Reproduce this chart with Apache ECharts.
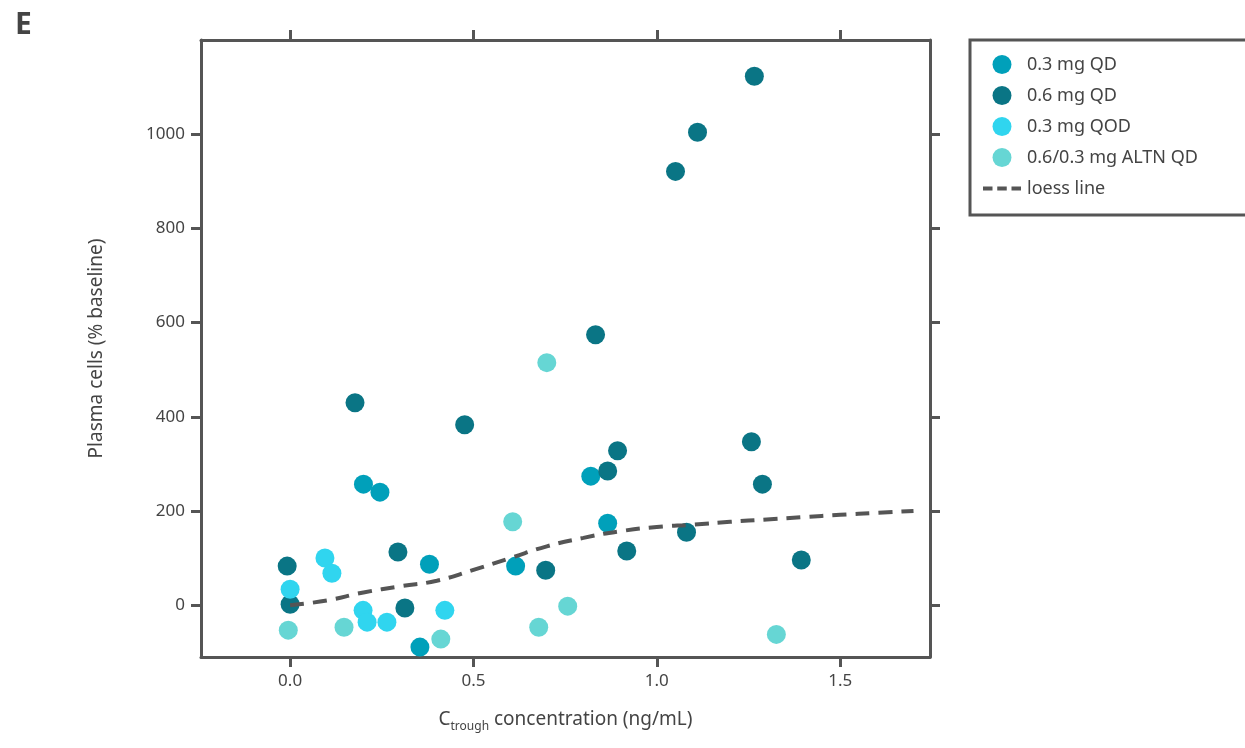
<!DOCTYPE html>
<html><head><meta charset="utf-8">
<script src="https://cdn.jsdelivr.net/npm/echarts@6/dist/echarts.min.js"></script>
<style>html,body{margin:0;padding:0;background:#fff}#c{width:1245px;height:748px}</style>
</head><body><div id="c"></div>
<script>
const qd03 = [[0.20,257],[0.245,240],[0.38,87],[0.354,-89],[0.615,83],[0.82,274],[0.866,174]];
const qd06 = [[-0.008,83],[0,2],[0.177,430],[0.294,113],[0.313,-6],[0.476,383],[0.697,74],[0.833,574],[0.866,285],[0.893,328],[0.918,115],[1.051,921],[1.111,1004],[1.081,155],[1.266,1123],[1.258,347],[1.288,257],[1.394,96]];
const qod03 = [[0,34],[0.095,100],[0.114,68],[0.199,-11],[0.21,-36],[0.264,-36],[0.422,-11]];
const altn = [[-0.005,-53],[0.147,-47],[0.411,-72],[0.607,177],[0.70,515],[0.678,-47],[0.757,-2],[1.326,-62]];
const loess = [[0,0],[0.1,10],[0.2,27],[0.3,40],[0.4,52],[0.5,75],[0.6,100],[0.7,125],[0.8,143],[0.9,157],[1.0,166],[1.1,171],[1.2,177],[1.3,182],[1.4,187],[1.5,192],[1.6,196],[1.7,200]];
const xTicks = [0,0.5,1,1.5];
const yTicks = [0,200,400,600,800,1000];
const F = 'Noto Sans';
const ax = '#555';
const chart = echarts.init(document.getElementById('c'));
function sc(name, data, color){return {name, type:'scatter', data, symbolSize:19, itemStyle:{color, opacity:1}, xAxisIndex:0, yAxisIndex:0};}
const xBase = {type:'value', min:-0.243, max:1.745, axisLine:{onZero:false,lineStyle:{color:ax,width:3}}, axisTick:{customValues:xTicks,length:10,lineStyle:{color:ax,width:3}}, splitLine:{show:false}};
const yBase = {type:'value', min:-110, max:1200, axisLine:{onZero:false,lineStyle:{color:ax,width:3}}, axisTick:{customValues:yTicks,length:10,lineStyle:{color:ax,width:3}}, splitLine:{show:false}};
chart.setOption({
  animation:false,
  grid:{left:201,right:315,top:40,bottom:91,containLabel:false},
  title:{text:'E',left:10,top:5,textStyle:{fontFamily:F,fontSize:30,fontWeight:'bold',color:'#444'}},
  legend:{show:true,orient:'vertical',left:978,top:50,itemGap:12,itemWidth:40,itemHeight:19,
    textStyle:{fontFamily:F,fontSize:18,color:'#444'},
    data:[{name:'0.3 mg QD',icon:'circle'},{name:'0.6 mg QD',icon:'circle'},{name:'0.3 mg QOD',icon:'circle'},{name:'0.6/0.3 mg ALTN QD',icon:'circle'},
      {name:'loess line',icon:'path://M0,0h0.1v0.1h-0.1z M0,8h10v4h-10z M15,8h10v4h-10z M30,8h10v4h-10z M0,19.9h0.1v0.1h-0.1z',itemStyle:{color:'#555'}}]},
  graphic:[{type:'rect',shape:{x:970,y:40,width:290,height:175},style:{fill:'none',stroke:ax,lineWidth:3},z:100}],
  xAxis:[Object.assign({}, xBase, {position:'bottom',
      name:'{a|C}{s|trough}{a| concentration (ng/mL)}', nameLocation:'middle', nameGap:50,
      nameTextStyle:{rich:{a:{fontFamily:F,fontSize:19,color:'#444'},s:{fontFamily:F,fontSize:12,color:'#444',padding:[14,0,0,0]}}},
      axisLabel:{customValues:xTicks,formatter:v=>v.toFixed(1),fontFamily:F,fontSize:17,color:'#444',margin:16}}),
    Object.assign({}, xBase, {position:'top',axisLabel:{show:false}})],
  yAxis:[Object.assign({}, yBase, {position:'left',
      name:'Plasma cells (% baseline)', nameLocation:'middle', nameGap:95,
      nameTextStyle:{fontFamily:F,fontSize:19,color:'#444'},
      axisLabel:{customValues:yTicks,formatter:v=>String(v),fontFamily:F,fontSize:17,color:'#444',margin:16}}),
    Object.assign({}, yBase, {position:'right',axisLabel:{show:false}})],
  series:[
    sc('0.3 mg QD',qd03,'#00a0ba'),
    sc('0.6 mg QD',qd06,'#0a7585'),
    sc('0.3 mg QOD',qod03,'#30d5ef'),
    sc('0.6/0.3 mg ALTN QD',altn,'#66d6d4'),
    {name:'loess line',type:'line',data:loess,smooth:true,showSymbol:false,symbol:'none',z:5,
     lineStyle:{color:'#555',width:4,type:[14,9]},itemStyle:{color:'#555'}}
  ]
});
</script></body></html>
